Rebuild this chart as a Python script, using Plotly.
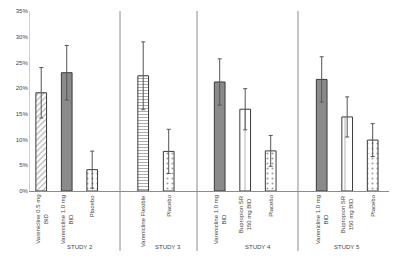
import plotly.graph_objects as go

# ---- data ----
studies = ["STUDY 2", "STUDY 3", "STUDY 4", "STUDY 5"]
bar_labels = [
    "Varenicline 0.5 mg<br>BID", "Varenicline 1.0 mg<br>BID", "Placebo",
    "Varenicline Flexible", "Placebo",
    "Varenicline 1.0 mg<br>BID", "Bupropion SR<br>150 mg BID", "Placebo",
    "Varenicline 1.0 mg<br>BID", "Bupropion SR<br>150 mg BID", "Placebo",
]
treatment = ["v05", "v10", "pla", "vflex", "pla", "v10", "bup", "pla", "v10", "bup", "pla"]
values = [19.1, 23.0, 4.15, 22.4, 7.7, 21.2, 15.9, 7.8, 21.7, 14.4, 9.9]
errors = [4.9, 5.3, 3.6, 6.6, 4.3, 4.5, 4.0, 3.0, 4.4, 3.9, 3.2]
y_ticks = [0, 5, 10, 15, 20, 25, 30, 35]

# ---- layout positions ----
bar_x = [0, 1, 2, 4, 5, 7, 8, 9, 11, 12, 13]
separator_x = [3.09, 6.11, 10.07]
study_x = [1.52, 4.97, 8.5, 11.99]

styles = {
    "v05": dict(shape="/", fg="#8a8a8a", bg="white", color="white", size=4, sol=0.25),
    "v10": dict(shape="", fg="#8a8a8a", bg="#8a8a8a", color="#8a8a8a", size=4, sol=0.3),
    "pla": dict(shape=".", fg="#9a9a9a", bg="white", color="white", size=5, sol=0.15),
    "vflex": dict(shape="-", fg="#666666", bg="white", color="white", size=3, sol=0.3),
    "bup": dict(shape="|", fg="#888888", bg="white", color="white", size=10, sol=0.08),
}

fig = go.Figure()
fig.add_trace(go.Bar(
    x=bar_x, y=values, width=0.42,
    marker=dict(
        color=[styles[t]["color"] for t in treatment],
        line=dict(color="#3a3a3a", width=1),
        pattern=dict(
            shape=[styles[t]["shape"] for t in treatment],
            fgcolor=[styles[t]["fg"] for t in treatment],
            bgcolor=[styles[t]["bg"] for t in treatment],
            size=[styles[t]["size"] for t in treatment],
            solidity=[styles[t]["sol"] for t in treatment],
        ),
    ),
    error_y=dict(type="data", array=errors, visible=True, color="#555555",
                 thickness=1, width=2),
    showlegend=False,
))

shapes = []
for sx in separator_x:
    shapes.append(dict(type="line", xref="x", yref="paper", x0=sx, x1=sx,
                       y0=-0.333, y1=1.0, line=dict(color="#8c8c8c", width=1)))

annotations = []
for bx, lab in zip(bar_x, bar_labels):
    annotations.append(dict(x=bx, xref="x", y=0, yref="y", yanchor="top",
                            xanchor="center", yshift=-2, text=lab, textangle=-90,
                            showarrow=False, align="center",
                            font=dict(size=6, color="#444444",
                                      family="Liberation Sans, Arial, sans-serif")))
for sx, st in zip(study_x, studies):
    annotations.append(dict(x=sx, xref="x", y=-0.31, yref="paper", yanchor="middle",
                            xanchor="center", text=st, showarrow=False,
                            font=dict(size=6, color="#444444",
                                      family="Liberation Sans, Arial, sans-serif")))

fig.update_layout(
    width=400, height=258,
    margin=dict(l=30, r=11, t=8, b=67),
    paper_bgcolor="white", plot_bgcolor="white",
    bargap=0.5,
    shapes=shapes,
    annotations=annotations,
    font=dict(family="Liberation Sans, Arial, sans-serif", size=6, color="#444444"),
)
fig.update_xaxes(range=[-0.44, 13.64], showticklabels=False, ticks="",
                 showgrid=False, zeroline=False, showline=True,
                 linecolor="#8c8c8c", linewidth=1)
fig.update_yaxes(range=[0, 35], tickvals=y_ticks, ticktext=[f"{v}%" for v in y_ticks],
                 showgrid=False, zeroline=False, showline=True,
                 linecolor="#d0d0d0", linewidth=1, ticks="",
                 tickfont=dict(size=6, color="#444444"))

fig.write_html("out.html")
